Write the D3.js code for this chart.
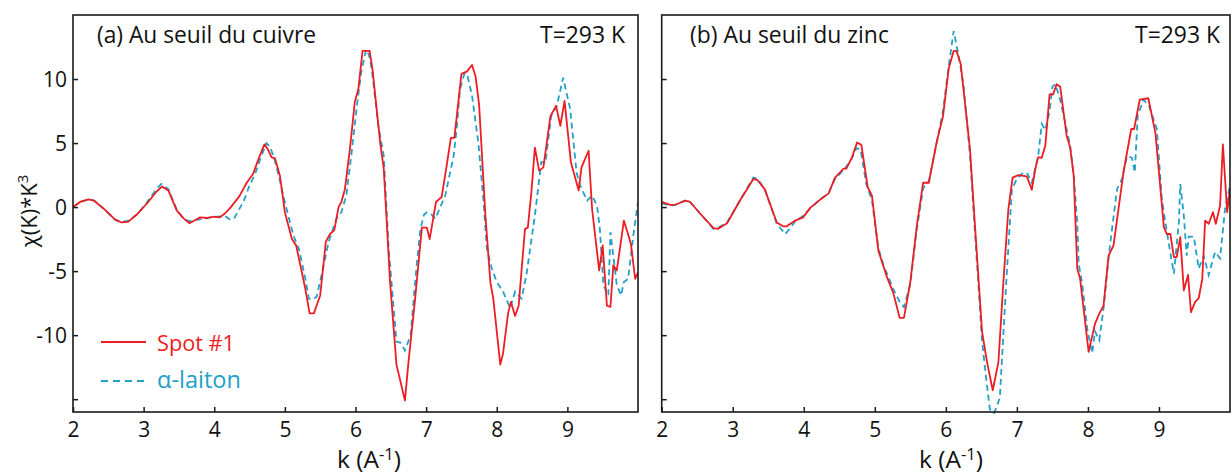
<!DOCTYPE html>
<html><head><meta charset="utf-8">
<script src="https://cdn.jsdelivr.net/npm/d3@7"></script>
<style>body{margin:0;background:#fff}svg{display:block}text{font-family:"Open Sans","Noto Sans",sans-serif;fill:#111}</style>
</head><body>
<svg id="c" width="1232" height="475"></svg>
<script>
// ---------- data ----------
const xTicks = [2,3,4,5,6,7,8,9];
const yTicks = [-15,-10,-5,0,5,10];
const panelTitles = ["(a) Au seuil du cuivre","(b) Au seuil du zinc"];
const tempLabel = "T=293 K";
const seriesNames = ["Spot #1","\u03B1-laiton"];

const cuSpotK = [2.00,2.10,2.22,2.30,2.45,2.60,2.69,2.78,2.90,3.05,3.18,3.26,3.35,3.47,3.57,3.65,3.72,3.80,3.90,4.00,4.08,4.15,4.22,4.35,4.46,4.55,4.63,4.71,4.76,4.81,4.86,4.93,5.00,5.10,5.16,5.29,5.35,5.41,5.50,5.58,5.64,5.70,5.76,5.80,5.85,5.92,5.99,6.04,6.10,6.20,6.24,6.35,6.40,6.49,6.58,6.70,6.75,6.84,6.94,7.01,7.05,7.14,7.22,7.29,7.35,7.40,7.50,7.58,7.65,7.70,7.75,7.84,7.91,7.95,8.05,8.09,8.16,8.20,8.26,8.31,8.40,8.44,8.49,8.54,8.60,8.66,8.76,8.84,8.90,8.96,9.05,9.16,9.20,9.30,9.35,9.45,9.50,9.56,9.61,9.65,9.70,9.80,9.88,9.90,9.96,10.0];
const cuSpotV = [0.0,0.4,0.6,0.5,-0.2,-1.0,-1.2,-1.15,-0.6,0.3,1.2,1.6,1.3,-0.27,-0.9,-1.26,-1.05,-0.8,-0.85,-0.75,-0.8,-0.5,-0.1,0.8,1.9,2.6,3.8,4.9,4.5,3.9,3.8,2.45,-0.4,-2.5,-3.0,-6.4,-8.3,-8.3,-6.9,-2.7,-2.1,-1.8,0.0,0.4,1.4,4.5,8.2,9.2,12.2,12.2,10.8,5.0,3.0,-5.9,-12.3,-15.1,-12.1,-7.4,-1.6,-1.6,-2.5,0.4,0.8,3.2,5.4,5.4,10.4,10.6,11.1,10.2,8.0,-0.7,-5.9,-7.1,-12.3,-11.4,-8.3,-7.4,-8.5,-7.7,-1.7,-1.6,1.15,4.65,2.85,3.1,7.1,7.9,6.35,8.3,3.5,1.3,3.1,4.4,-0.15,-4.95,-3.0,-7.7,-7.8,-4.55,-4.95,-1.05,-2.5,-2.9,-5.6,-5.1];

const cuAlphaK = [2.00,2.10,2.22,2.30,2.45,2.60,2.70,2.80,2.92,3.05,3.18,3.25,3.35,3.47,3.57,3.65,3.75,3.85,3.95,4.05,4.15,4.22,4.28,4.34,4.42,4.50,4.58,4.66,4.74,4.79,4.85,4.92,5.00,5.12,5.20,5.29,5.34,5.40,5.45,5.52,5.62,5.73,5.80,5.87,5.95,6.02,6.08,6.15,6.19,6.23,6.32,6.40,6.47,6.58,6.64,6.70,6.78,6.87,6.92,6.97,7.01,7.08,7.13,7.20,7.27,7.39,7.43,7.48,7.54,7.58,7.65,7.74,7.81,7.86,7.93,8.00,8.09,8.19,8.26,8.35,8.42,8.54,8.63,8.69,8.77,8.85,8.94,9.04,9.13,9.18,9.28,9.35,9.42,9.46,9.51,9.58,9.61,9.65,9.70,9.76,9.80,9.86,9.94,10.0];
const cuAlphaV = [0.0,0.4,0.6,0.5,-0.2,-1.0,-1.15,-1.05,-0.5,0.4,1.4,1.8,1.4,-0.2,-0.95,-1.1,-1.0,-0.9,-0.8,-0.75,-0.7,-0.95,-0.9,-0.3,0.5,1.7,2.6,3.9,5.0,4.7,3.8,2.3,0.37,-2.2,-3.3,-5.6,-7.15,-7.2,-7.0,-5.3,-2.7,-0.9,-0.4,0.9,4.5,7.9,10.5,12.3,11.9,10.8,6.5,4.0,-3.25,-10.5,-10.6,-11.2,-10.0,-4.3,-1.7,-0.6,-0.4,-0.6,-0.9,0.0,0.9,4.0,6.0,9.2,10.4,10.4,8.7,5.0,0.65,-3.25,-4.8,-5.85,-6.6,-7.9,-6.6,-7.15,-5.3,-0.65,3.5,3.5,7.1,7.9,10.1,7.65,2.7,1.7,0.5,0.9,0.1,-1.7,-6.1,-6.9,-1.96,-3.8,-6.1,-6.9,-5.85,-5.6,-1.96,0.4];

const znSpotK = [2.00,2.12,2.20,2.33,2.40,2.54,2.73,2.79,2.92,3.10,3.29,3.35,3.45,3.62,3.71,3.76,3.88,3.99,4.09,4.23,4.35,4.44,4.56,4.60,4.68,4.75,4.81,4.90,4.96,5.05,5.12,5.17,5.26,5.35,5.41,5.50,5.59,5.68,5.76,5.87,5.96,6.04,6.11,6.15,6.21,6.34,6.41,6.51,6.58,6.66,6.74,6.81,6.88,6.94,7.02,7.14,7.21,7.26,7.30,7.35,7.40,7.46,7.51,7.56,7.61,7.70,7.75,7.80,7.85,7.89,8.01,8.10,8.17,8.22,8.29,8.36,8.50,8.61,8.65,8.73,8.85,8.95,9.07,9.11,9.16,9.21,9.25,9.30,9.35,9.41,9.45,9.51,9.56,9.61,9.65,9.70,9.76,9.80,9.86,9.90,9.96,10.0];
const znSpotV = [0.4,0.17,0.2,0.5,0.4,-0.5,-1.65,-1.7,-1.26,0.5,2.2,2.1,1.4,-1.2,-1.5,-1.5,-1.05,-0.8,-0.06,0.58,1.07,2.3,3.0,3.0,3.9,5.05,4.87,1.55,0.9,-3.4,-4.6,-5.45,-6.7,-8.65,-8.65,-5.85,-1.5,1.9,1.9,5.05,7.1,10.8,12.2,12.2,11.15,4.5,-1.45,-9.75,-12.1,-14.3,-12.1,-5.85,-0.15,2.3,2.5,2.4,1.35,3.0,3.9,3.85,4.8,8.8,8.8,9.6,9.4,5.6,4.65,2.45,-4.8,-5.6,-11.3,-9.1,-8.2,-7.7,-3.8,-3.0,2.7,6.1,6.1,8.4,8.5,5.8,-1.6,-2.1,-2.1,-3.9,-3.9,-2.35,-6.5,-5.3,-8.2,-7.4,-7.1,-5.6,-1.05,-1.3,-0.4,-1.3,0.1,4.9,-0.4,1.4];

const znAlphaK = [2.00,2.12,2.20,2.33,2.40,2.54,2.73,2.80,2.92,3.10,3.29,3.35,3.45,3.62,3.74,3.80,3.88,3.99,4.09,4.23,4.35,4.44,4.56,4.66,4.74,4.80,4.88,4.96,5.05,5.12,5.26,5.35,5.41,5.50,5.59,5.68,5.76,5.87,5.96,6.04,6.11,6.18,6.25,6.34,6.41,6.51,6.57,6.62,6.68,6.76,6.85,6.93,7.00,7.07,7.14,7.21,7.30,7.35,7.40,7.46,7.50,7.54,7.60,7.66,7.75,7.80,7.85,7.87,7.92,7.99,8.06,8.10,8.16,8.22,8.31,8.41,8.48,8.55,8.62,8.66,8.70,8.78,8.86,8.97,9.04,9.11,9.21,9.28,9.30,9.35,9.39,9.42,9.49,9.56,9.63,9.70,9.79,9.86,9.93,10.0];
const znAlphaV = [0.3,0.1,0.2,0.5,0.4,-0.5,-1.7,-1.6,-1.2,0.5,2.3,2.2,1.4,-1.3,-2.1,-1.7,-1.1,-0.7,-0.1,0.6,1.1,2.2,2.9,3.6,4.6,4.5,1.8,0.5,-3.2,-4.5,-6.4,-7.4,-7.8,-6.0,-1.8,1.5,2.0,5.0,7.5,11.0,13.75,11.8,9.5,4.0,-2.0,-10.5,-13.5,-15.8,-16.1,-14.9,-5.9,1.4,2.2,2.6,2.7,1.9,4.0,6.5,6.0,7.5,9.4,9.6,8.6,7.1,4.8,2.45,-1.2,-4.4,-6.0,-9.5,-11.4,-9.7,-10.4,-7.9,-3.0,1.4,2.2,4.0,3.85,2.7,7.1,8.4,7.9,6.1,0.65,-1.9,-5.2,-1.2,1.8,-0.65,-3.8,-2.3,-2.3,-4.8,-3.8,-5.3,-3.5,-4.0,-0.15,1.7];

// ---------- drawing ----------
const RED = "#ee1c24", BLUE = "#22a0c8";
const svg = d3.select("#c");
svg.append("rect").attr("width",1232).attr("height",475).attr("fill","#fff");

const plotTop = 15, plotBottom = 412;
const panels = [
  {x0:73, x1:638, spotK:cuSpotK, spotV:cuSpotV, alphaK:cuAlphaK, alphaV:cuAlphaV, title:panelTitles[0], titleW:219, titleX:97, tempX:625, xlabX:337, labels:true},
  {x0:661.7, x1:1230, spotK:znSpotK, spotV:znSpotV, alphaK:znAlphaK, alphaV:znAlphaV, title:panelTitles[1], titleW:199, titleX:690, tempX:1220, xlabX:919, labels:false}
];

function fit(sel, target, base){
  sel.attr("font-size", base);
  const w = sel.node().getComputedTextLength();
  if (w > 0) sel.attr("font-size", (base*target/w).toFixed(2));
}

panels.forEach((p,i)=>{
  const x = d3.scaleLinear().domain([2,10]).range([p.x0,p.x1]);
  const y = d3.scaleLinear().domain([-16,15]).range([plotBottom,plotTop]);
  const g = svg.append("g");
  const cid = "clip"+i;
  svg.append("clipPath").attr("id",cid).append("rect")
    .attr("x",p.x0).attr("y",plotTop-2).attr("width",p.x1-p.x0).attr("height",plotBottom-plotTop+4);

  const line = d3.line().x(d=>x(d[0])).y(d=>y(d[1]));
  const alpha = p.alphaK.map((k,j)=>[k,p.alphaV[j]]);
  const spot = p.spotK.map((k,j)=>[k,p.spotV[j]]);
  g.append("path").attr("clip-path",`url(#${cid})`).attr("d",line(alpha))
    .attr("fill","none").attr("stroke",BLUE).attr("stroke-width",1.8).attr("stroke-dasharray","6,4");
  g.append("path").attr("clip-path",`url(#${cid})`).attr("d",line(spot))
    .attr("fill","none").attr("stroke",RED).attr("stroke-width",1.8).attr("stroke-linejoin","round");

  // axes
  const xa = g.append("g").attr("transform",`translate(0,${plotBottom})`)
    .call(d3.axisBottom(x).tickValues(xTicks).tickSizeInner(-5).tickSizeOuter(0).tickPadding(10).tickFormat(d3.format("d")));
  const ya = g.append("g").attr("transform",`translate(${p.x0},0)`)
    .call(d3.axisLeft(y).tickValues(yTicks).tickSizeInner(-5).tickSizeOuter(0).tickPadding(6)
      .tickFormat(d=> (p.labels && d!==-15) ? String(d) : ""));
  [xa,ya].forEach(a=>{
    a.select(".domain").remove();
    a.selectAll("line").attr("stroke","#1a1a1a").attr("stroke-width",1.5);
    a.selectAll("text").attr("font-size",21).attr("font-family",'"Open Sans",sans-serif').attr("fill","#111");
  });
  ya.selectAll("text").attr("dy","0.36em");

  g.append("rect").attr("x",p.x0).attr("y",plotTop).attr("width",p.x1-p.x0).attr("height",plotBottom-plotTop)
    .attr("fill","none").attr("stroke","#1a1a1a").attr("stroke-width",1.6);

  const t = g.append("text").attr("x",p.titleX).attr("y",43).text(p.title);
  fit(t, p.titleW, 21);
  const tt = g.append("text").attr("x",p.tempX).attr("y",43).attr("text-anchor","end").text(tempLabel);
  fit(tt, 85, 21);

  const xl = g.append("text").attr("x",p.xlabX).attr("y",468);
  xl.append("tspan").text("k (A");
  xl.append("tspan").attr("dy",-8).attr("font-size","0.68em").text("-1");
  xl.append("tspan").attr("dy",8).text(")");
  fit(xl, 64, 20);
});

// y label
const yl = svg.append("text").attr("transform","translate(37,211) rotate(-90)").attr("text-anchor","middle");
yl.append("tspan").text("\u03C7(K)*K");
yl.append("tspan").attr("dy",-9).attr("font-size","0.68em").text("3");
yl.attr("font-size",22);

// legend
const lg = svg.append("g");
lg.append("line").attr("x1",101).attr("x2",146).attr("y1",342).attr("y2",342).attr("stroke",RED).attr("stroke-width",1.8);
const l1 = lg.append("text").attr("x",157).attr("y",351).style("fill",RED).text(seriesNames[0]);
fit(l1, 78, 21);
lg.append("line").attr("x1",101).attr("x2",146).attr("y1",381).attr("y2",381).attr("stroke",BLUE).attr("stroke-width",1.8).attr("stroke-dasharray","7,5");
const l2 = lg.append("text").attr("x",157).attr("y",388).style("fill",BLUE).text(seriesNames[1]);
fit(l2, 84, 21);
</script>
</body></html>
